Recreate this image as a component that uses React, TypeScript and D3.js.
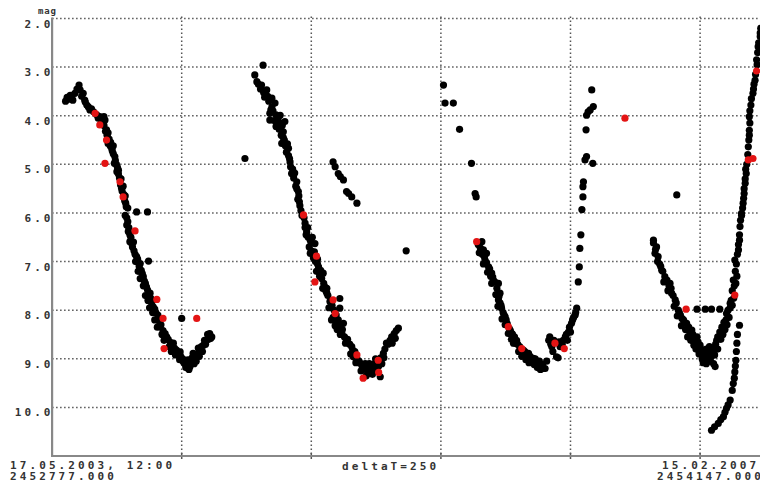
import * as d3 from "d3";

// Julian date of the left edge, days are counted from here
const JD0 = 2452777;
const startLabel = ["17.05.2003, 12:00", "2452777.000"];
const endLabel = ["15.02.2007,", "2454147.000"];
const stepLabel = "deltaT=250";

const magTicks = [2, 3, 4, 5, 6, 7, 8, 9, 10];
const gridDays = [250, 500, 750, 1000, 1250];

// [days since JD0, magnitude]
const blackObs: [number, number][] = [
  // season 1
  [26, 3.7], [29, 3.62], [33, 3.66], [35, 3.58], [38, 3.61], [40, 3.68], [44, 3.54], [48, 3.45],
  [52, 3.37], [54, 3.47], [57, 3.6], [60, 3.54], [63, 3.68], [64, 3.72], [67, 3.78], [70, 3.82],
  [73, 3.88], [76, 3.86], [80, 3.92], [86, 3.98], [89, 4.05], [92, 4.02], [98, 4.12], [100, 4.2],
  [102, 4.09], [103, 4.32], [105, 4.29], [106, 4.4], [108, 4.57], [110, 4.48], [112, 4.62],
  [115, 4.67], [116, 4.72], [118, 4.78], [121, 4.84], [122, 4.92], [124, 5.0], [126, 5.06],
  [128, 5.12], [128, 5.2], [130, 5.28], [132, 5.42], [134, 5.49], [135, 5.55], [138, 5.62],
  [140, 5.75], [142, 5.8], [143, 5.87], [163, 5.98], [184, 5.98], [144, 6.1], [146, 6.18],
  [144, 6.25], [148, 6.3], [150, 6.45], [152, 6.5], [150, 6.59], [155, 6.7], [158, 6.78],
  [160, 6.85], [163, 6.9], [165, 6.95], [170, 7.04], [186, 6.99], [168, 7.1], [172, 7.18],
  [174, 7.25], [176, 7.31], [178, 7.4], [180, 7.45], [182, 7.52], [184, 7.58], [189, 7.65],
  [186, 7.7], [190, 7.75], [192, 7.85], [195, 7.93], [198, 7.98], [200, 8.05], [204, 8.1],
  [250, 8.17], [206, 8.22], [210, 8.3], [208, 8.34], [214, 8.42], [218, 8.48], [221, 8.55],
  [224, 8.6], [228, 8.66], [234, 8.68], [232, 8.72], [236, 8.78], [240, 8.82], [247, 8.86],
  [244, 8.92], [248, 8.95], [252, 9.0], [253, 9.06], [256, 9.1], [260, 9.12], [262, 9.02],
  [266, 9.16], [268, 9.05], [270, 8.98], [274, 9.1], [272, 8.89], [276, 8.95], [280, 8.9],
  [284, 8.95], [285, 8.82], [288, 8.75], [292, 8.72], [296, 8.7], [298, 8.62], [302, 8.6],
  [306, 8.58], [308, 8.55],
  [95, 4.1], [100, 4.02], [108, 4.35], [113, 4.55], [118, 4.62], [120, 4.98], [125, 5.15],
  [133, 5.3], [137, 5.45], [141, 5.65], [146, 5.9], [141, 6.05], [147, 6.38], [153, 6.62],
  [157, 6.6], [161, 7.0], [166, 7.2], [170, 7.35], [176, 7.5], [180, 7.7], [185, 7.8],
  [188, 7.95], [194, 8.05], [198, 8.2], [203, 8.35], [212, 8.5], [216, 8.62], [226, 8.75],
  [230, 8.85], [238, 8.92], [246, 9.02], [258, 9.18], [264, 9.22], [278, 9.05], [282, 8.78],
  [290, 8.85], [294, 8.62], [300, 8.5], [304, 8.48],
  // season 2
  [372, 4.88], [407, 2.96], [391, 3.16], [395, 3.3], [398, 3.35], [404, 3.37], [402, 3.45],
  [414, 3.47], [408, 3.52], [412, 3.58], [424, 3.64], [418, 3.7], [430, 3.74], [424, 3.82],
  [426, 3.9], [420, 3.95], [432, 3.98], [440, 3.99], [436, 4.05], [420, 4.09], [428, 4.1],
  [449, 4.12], [440, 4.15], [444, 4.2], [432, 4.22], [436, 4.23], [438, 4.28], [446, 4.33],
  [442, 4.4], [448, 4.5], [443, 4.57], [450, 4.62], [456, 4.67], [452, 4.75], [456, 4.82],
  [459, 4.95], [460, 5.05], [464, 5.1], [462, 5.19], [466, 5.28], [472, 5.36], [470, 5.45],
  [472, 5.5], [475, 5.56], [476, 5.65], [477, 5.77], [478, 5.85], [480, 5.95], [486, 6.1],
  [488, 6.21], [488, 6.3], [491, 6.39], [490, 6.45], [494, 6.5], [498, 6.56], [507, 6.63],
  [500, 6.62], [496, 6.7], [500, 6.78], [498, 6.83], [504, 6.92], [508, 7.0], [512, 7.05],
  [514, 7.11], [510, 7.2], [523, 7.24], [516, 7.3], [520, 7.35], [524, 7.45], [526, 7.52],
  [528, 7.6], [530, 7.65], [532, 7.7], [555, 7.76], [536, 7.82], [540, 7.9], [555, 7.96],
  [544, 8.0], [548, 8.1], [539, 8.2], [552, 8.2], [549, 8.27], [562, 8.27], [546, 8.32],
  [556, 8.35], [560, 8.4], [559, 8.48], [564, 8.55], [568, 8.62], [570, 8.6], [574, 8.7],
  [578, 8.75], [580, 8.82], [584, 8.85], [581, 8.96], [588, 9.0], [592, 9.05], [594, 9.09],
  [598, 9.15], [602, 9.2], [604, 9.1], [607, 9.23], [610, 9.3], [614, 9.15], [617, 9.23],
  [620, 9.25], [622, 9.1], [626, 9.2], [630, 9.15], [633, 9.37], [634, 8.98], [639, 8.89],
  [642, 8.8], [645, 8.68], [648, 8.7], [652, 8.62], [655, 8.55], [660, 8.48], [664, 8.42],
  [668, 8.37], [542, 4.95], [546, 5.05], [552, 5.19], [556, 5.25], [562, 5.32], [568, 5.56],
  [572, 5.6], [578, 5.67], [588, 5.8], [683, 6.78],
  [410, 3.62], [416, 3.6], [422, 3.88], [434, 4.12], [446, 4.45], [454, 4.58], [458, 4.88],
  [468, 5.18], [474, 5.72], [482, 6.05], [493, 6.3], [502, 6.5], [506, 6.8], [512, 6.95],
  [518, 7.18], [522, 7.55], [530, 7.55], [534, 7.95], [542, 8.15], [550, 8.4], [556, 8.5],
  [566, 8.68], [576, 8.9], [586, 9.08], [596, 9.25], [606, 9.35], [612, 9.1], [618, 9.32],
  [624, 9.0], [636, 9.1], [640, 8.98], [656, 8.68], [662, 8.58],
  // season 3
  [755, 3.37], [758, 3.74], [774, 3.74], [786, 4.28], [809, 4.98], [816, 5.6], [818, 5.67],
  [829, 6.59], [822, 6.65], [826, 6.72], [832, 6.76], [838, 6.83], [830, 6.85], [834, 6.9],
  [835, 6.97], [838, 7.02], [842, 7.11], [844, 7.15], [848, 7.24], [846, 7.3], [850, 7.32],
  [851, 7.38], [854, 7.42], [861, 7.45], [858, 7.55], [864, 7.65], [862, 7.72], [861, 7.79],
  [864, 7.85], [866, 7.9], [867, 7.96], [870, 8.05], [872, 8.1], [874, 8.14], [876, 8.2],
  [878, 8.28], [882, 8.38], [884, 8.42], [887, 8.48], [888, 8.5], [892, 8.55], [896, 8.62],
  [894, 8.68], [898, 8.7], [902, 8.75], [909, 8.82], [912, 8.85], [919, 8.89], [916, 8.92],
  [922, 8.95], [928, 8.99], [926, 9.02], [932, 9.0], [935, 9.06], [938, 9.1], [940, 9.05],
  [946, 9.12], [945, 9.16], [948, 9.2], [951, 9.2], [960, 8.55], [958, 8.62], [962, 8.7],
  [964, 8.75], [966, 8.85], [973, 8.96], [976, 8.98], [980, 8.75], [984, 8.7], [986, 8.62],
  [990, 8.55], [992, 8.5], [996, 8.45], [998, 8.35], [1002, 8.27], [1004, 8.2], [1006, 8.15],
  [1009, 8.1], [1010, 8.05], [1012, 7.96], [1015, 7.42], [1017, 7.11], [1018, 6.73],
  [1020, 6.45], [1022, 5.93], [1024, 5.67], [1024, 5.46], [1025, 5.36], [1028, 4.91],
  [1031, 4.84], [1043, 4.98], [1030, 4.29], [1031, 3.99], [1034, 3.92], [1038, 3.88],
  [1044, 3.81], [1041, 3.47],
  [824, 6.82], [832, 7.05], [840, 7.22], [848, 7.45], [856, 7.68], [860, 7.92], [868, 8.18],
  [874, 8.3], [880, 8.48], [886, 8.6], [890, 8.68], [900, 8.85], [906, 8.95], [914, 9.02],
  [920, 9.08], [930, 9.12], [936, 9.18], [942, 9.22], [954, 9.05], [968, 8.62], [978, 8.65],
  [994, 8.62], [1000, 8.45],
  // season 4
  [1205, 5.63], [1160, 6.56], [1160, 6.62], [1166, 6.7], [1164, 6.75], [1163, 6.83],
  [1169, 6.9], [1172, 7.05], [1176, 7.18], [1178, 7.2], [1182, 7.31], [1186, 7.38],
  [1192, 7.45], [1190, 7.5], [1195, 7.65], [1198, 7.7], [1202, 7.79], [1204, 7.85],
  [1208, 8.0], [1210, 8.05], [1212, 8.1], [1215, 8.17], [1218, 8.2], [1220, 8.25],
  [1224, 8.27], [1228, 8.35], [1234, 8.41], [1230, 8.45], [1236, 8.5], [1244, 8.55],
  [1240, 8.6], [1246, 8.65], [1250, 8.72], [1250, 8.78], [1256, 8.82], [1252, 8.85],
  [1258, 8.9], [1260, 8.96], [1262, 8.8], [1264, 9.0], [1266, 8.85], [1269, 8.89],
  [1270, 9.05], [1272, 8.95], [1276, 9.1], [1279, 9.16], [1276, 8.79], [1282, 8.62],
  [1280, 8.7], [1284, 8.55], [1288, 8.45], [1292, 8.35], [1296, 8.25], [1300, 8.2],
  [1244, 7.98], [1260, 7.98], [1272, 7.98], [1288, 7.98], [1301, 8.07], [1304, 8.0],
  [1308, 7.86], [1308, 7.95], [1310, 7.8], [1312, 7.6], [1314, 7.38], [1316, 7.5],
  [1318, 7.2], [1317, 6.97], [1320, 7.05], [1322, 6.85], [1324, 6.76], [1324, 6.65],
  [1326, 6.56], [1326, 6.45], [1327, 6.28], [1328, 6.15], [1330, 6.05], [1330, 6.01],
  [1332, 5.9], [1333, 5.8], [1334, 5.7], [1335, 5.6], [1335, 5.5], [1337, 5.39], [1337, 5.3],
  [1339, 5.19], [1338, 5.1], [1340, 5.0], [1342, 4.8], [1343, 4.64], [1344, 4.5],
  [1345, 4.4], [1345, 4.3], [1346, 4.15], [1345, 4.02], [1346, 3.9], [1348, 3.78],
  [1349, 3.65], [1352, 3.54], [1353, 3.45], [1354, 3.35], [1356, 3.27], [1357, 3.15],
  [1360, 2.95], [1359, 2.85], [1361, 2.7], [1362, 2.58], [1363, 2.5], [1366, 2.37],
  [1366, 2.3], [1367, 2.2], [1326, 8.31], [1322, 8.5], [1321, 8.68], [1320, 8.85],
  [1319, 9.03], [1318, 9.15], [1317, 9.27], [1316, 9.4], [1314, 9.51], [1312, 9.65],
  [1308, 9.85], [1304, 9.95], [1301, 10.02], [1298, 10.1], [1295, 10.19], [1290, 10.25],
  [1285, 10.33], [1278, 10.4], [1272, 10.47],
  [1168, 7.0], [1174, 7.1], [1180, 7.42], [1188, 7.6], [1194, 7.55], [1200, 7.92],
  [1206, 8.12], [1214, 8.32], [1222, 8.4], [1226, 8.55], [1232, 8.62], [1238, 8.72],
  [1242, 8.8], [1248, 8.9], [1254, 9.0], [1256, 9.08], [1262, 9.1], [1266, 9.05],
  [1268, 8.75], [1274, 8.88], [1278, 8.92], [1284, 8.8], [1290, 8.6], [1294, 8.5],
  [1298, 8.4], [1302, 8.3], [1306, 8.15], [1312, 7.9], [1315, 7.75], [1319, 7.45],
  [1321, 7.3],
];

const redObs: [number, number][] = [
  [83, 3.95], [92, 4.19], [105, 4.5], [102, 4.98], [131, 5.36], [137, 5.67], [160, 6.37],
  [202, 7.78], [214, 8.17], [279, 8.17], [216, 8.79],
  [485, 6.04], [510, 6.89], [507, 7.42], [542, 7.79], [546, 8.07], [588, 8.92], [600, 9.4],
  [629, 9.03], [630, 9.28],
  [819, 6.59], [880, 8.34], [906, 8.79], [970, 8.68], [988, 8.79], [1105, 4.05],
  [1223, 7.98], [1317, 7.69], [1343, 4.91], [1352, 4.88], [1359, 3.08],
];

const width = 760;
const height = 484;
const textStyle = {
  fontFamily: "'DejaVu Sans Mono', monospace",
  fontWeight: 700,
  fontSize: 11,
  letterSpacing: 3.1,
  fill: "#333",
};

export default function App() {
  const x = d3.scaleLinear().domain([0, 1370]).range([52.1, 762.3]);
  const y = d3.scaleLinear().domain([2, 11]).range([18.5, 456]);
  const axisY = y(11);
  const axisX = x(0);

  return (
    <svg
      width={width}
      height={height}
      style={{ position: "absolute", left: 0, top: 0, background: "#fff" }}
    >
      {/* horizontal grid */}
      {magTicks.map(m => (
        <line
          key={"h" + m}
          x1={axisX}
          x2={width}
          y1={y(m)}
          y2={y(m)}
          stroke="#555"
          strokeWidth={1.5}
          strokeDasharray="1.5,2.5"
        />
      ))}
      {/* vertical grid */}
      {gridDays.map(d => (
        <g key={"v" + d}>
          <line
            x1={x(d)}
            x2={x(d)}
            y1={y(2) - 2}
            y2={axisY}
            stroke="#555"
            strokeWidth={1.5}
            strokeDasharray="1.5,2.5"
          />
          <line x1={x(d)} x2={x(d)} y1={axisY - 3} y2={axisY + 3} stroke="#555" strokeWidth={1.5} />
        </g>
      ))}
      {/* axes */}
      <line x1={axisX} x2={axisX} y1={y(2) - 1} y2={axisY + 1} stroke="#888" strokeWidth={2.2} />
      <line x1={axisX} x2={width} y1={axisY} y2={axisY} stroke="#888" strokeWidth={2.2} />
      {magTicks.map(m => (
        <text key={"t" + m} x={axisX + 1.5} y={y(m) + 9} textAnchor="end" style={textStyle}>
          {m.toFixed(1)}
        </text>
      ))}
      <text x={38} y={14} style={{ ...textStyle, fontSize: 9, letterSpacing: 0.8 }}>
        mag
      </text>

      {/* observations */}
      {blackObs.map((d, i) => (
        <circle key={"b" + i} cx={x(d[0])} cy={y(d[1])} r={3.6} fill="#000" />
      ))}
      {redObs.map((d, i) => (
        <circle key={"r" + i} cx={x(d[0])} cy={y(d[1])} r={3.6} fill="#e31414" />
      ))}

      {/* bottom labels */}
      <text x={10} y={469} style={textStyle}>{startLabel[0]}</text>
      <text x={10} y={480} style={textStyle}>{startLabel[1]}</text>
      <text x={342} y={470} style={textStyle}>{stepLabel}</text>
      <text x={662} y={469} style={textStyle}>{endLabel[0]}</text>
      <text x={657} y={480} style={textStyle}>{endLabel[1]}</text>
      <title>{`JD ${JD0}`}</title>
    </svg>
  );
}
